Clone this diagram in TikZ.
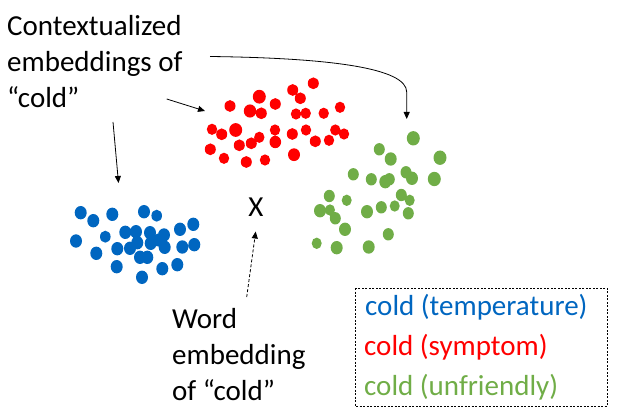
\documentclass[tikz,border=0pt]{standalone}
\usepackage{fontspec}
\setmainfont{Carlito}
\usepackage{tikz}
\usetikzlibrary{arrows.meta}
\definecolor{coldblue}{HTML}{0066C0}
\definecolor{coldred}{HTML}{FF0000}
\definecolor{coldgreen}{HTML}{70AD47}
\tikzset{
  txt/.style={inner sep=0pt,font=\fontsize{29}{36}\selectfont,align=left},
  pointer/.style={-{Triangle[length=7pt,width=6pt]},line width=0.8pt},
}
\begin{document}
\begin{tikzpicture}[x=1pt,y=-1pt]
\useasboundingbox (0,0) rectangle (617,419);
% temperature
\fill[coldblue] \foreach \x/\y/\r in {80.7/212.7/6,93.3/220.7/6,112.3/214.3/6,144/211.7/6,156.7/215.7/5.3,
  76/241/6,105.3/236.7/5.3,96.3/253.3/6,125.3/232.3/6,136/231.7/6,150/232.7/6,164/235/6,180/229.3/6,
  193.3/224.3/6,117.3/248.7/6,130/248.3/6,137.3/242.7/6,150.7/243.3/6,159.3/240/6,164.7/247.3/6,
  182.3/247/6,194.3/244.7/6,140/257.3/6,147.3/257.3/6,116.7/266.7/6,162.3/268.7/6,177.3/264.7/6,
  142/277.3/6} {(\x,\y) ellipse ({\r pt} and {\r pt+0.7pt})};
% symptom
\fill[coldred] \foreach \x/\y/\r in {313.3/83.3/5.5,259.3/96.7/6.5,292.7/90/5.5,300.3/98.3/5.5,230/106/5.5,
  250/111/6.2,261.3/113.3/5.5,275.3/104/5.5,296/114/5.2,305.7/113.3/5.2,323.7/113.3/5.2,340/107.3/5.2,
  212/129.3/5.2,221.7/134.3/5.5,235.7/130/6.5,275/130/5.2,292.3/134/5.5,306/130/5.2,335.3/130/5.2,
  344/134/5.2,239.3/145.3/5.5,251.3/143.3/5.5,259.3/137.3/5.2,275.3/142/5.8,315.3/141.3/5.5,
  329/140.3/5.2,210.3/149.3/5.5,224/158.3/5.2,246.3/162/5.5,265/160/5.2,294/154.7/6}
  {(\x,\y) ellipse ({\r pt} and {\r pt+0.4pt})};
% unfriendly
\fill[coldgreen] \foreach \x/\y/\r in {413.3/138.3/6.5,379.3/149.3/5.5,390.7/159/6,440/157.7/6.5,
  353.3/174.3/5.5,371.3/179.3/5.5,385.3/181.7/6,389.3/179.3/5.5,406/172.3/5.5,412/178.3/6,
  434.3/179/6.5,329.3/196/5.5,346.7/200.3/5,320/210.7/6,330/210/5,335.3/218.3/5.5,367/211.7/6,
  381.3/207.3/5.5,394.7/206/5,401.3/195/5.5,409.7/200.3/5,408.3/213.3/5.5,345/229.3/6,
  388.3/234.3/5.5,316.7/243.3/5,336.7/247.7/6,368.7/247/6}
  {(\x,\y) ellipse ({\r pt} and {\r pt+0.7pt})};
% labels (base = last line)
\node[txt,anchor=base west] (ctx) at (7,108) {Contextualized\\embeddings of\\“cold”};
\node[txt,anchor=base] (wordx) at (256,217) {X};
\node[txt,anchor=base west] (word) at (172,400) {Word\\embedding\\of “cold”};
% arrows
\coordinate (ctxa) at (113,122);
\coordinate (bluetip) at (118.5,183);
\coordinate (ctxb) at (166.7,99);
\coordinate (redtip) at (205,111);
\coordinate (ctxc) at (210,56.5);
\coordinate (greentip) at (406.7,119);
\coordinate (wordtail) at (246.7,297);
\coordinate (wordtip) at (255.7,231.5);
\draw[pointer] (ctxa) -- (bluetip);
\draw[pointer] (ctxb) -- (redtip);
\draw[pointer] (ctxc) .. controls (330,58) and (406.7,68) .. (406.7,92) -- (greentip);
\draw[pointer,dash pattern=on 3pt off 2pt] (wordtail) -- (wordtip);
% legend
\draw[line width=0.6pt,dash pattern=on 2pt off 1.5pt] (355,288) rectangle (607,406);
\node[txt,anchor=base west,text=coldblue] (leg1) at (365,315) {cold (temperature)};
\node[txt,anchor=base west,text=coldred] (leg2) at (364,355) {cold (symptom)};
\node[txt,anchor=base west,text=coldgreen] (leg3) at (364,395) {cold (unfriendly)};
\end{tikzpicture}
\end{document}
